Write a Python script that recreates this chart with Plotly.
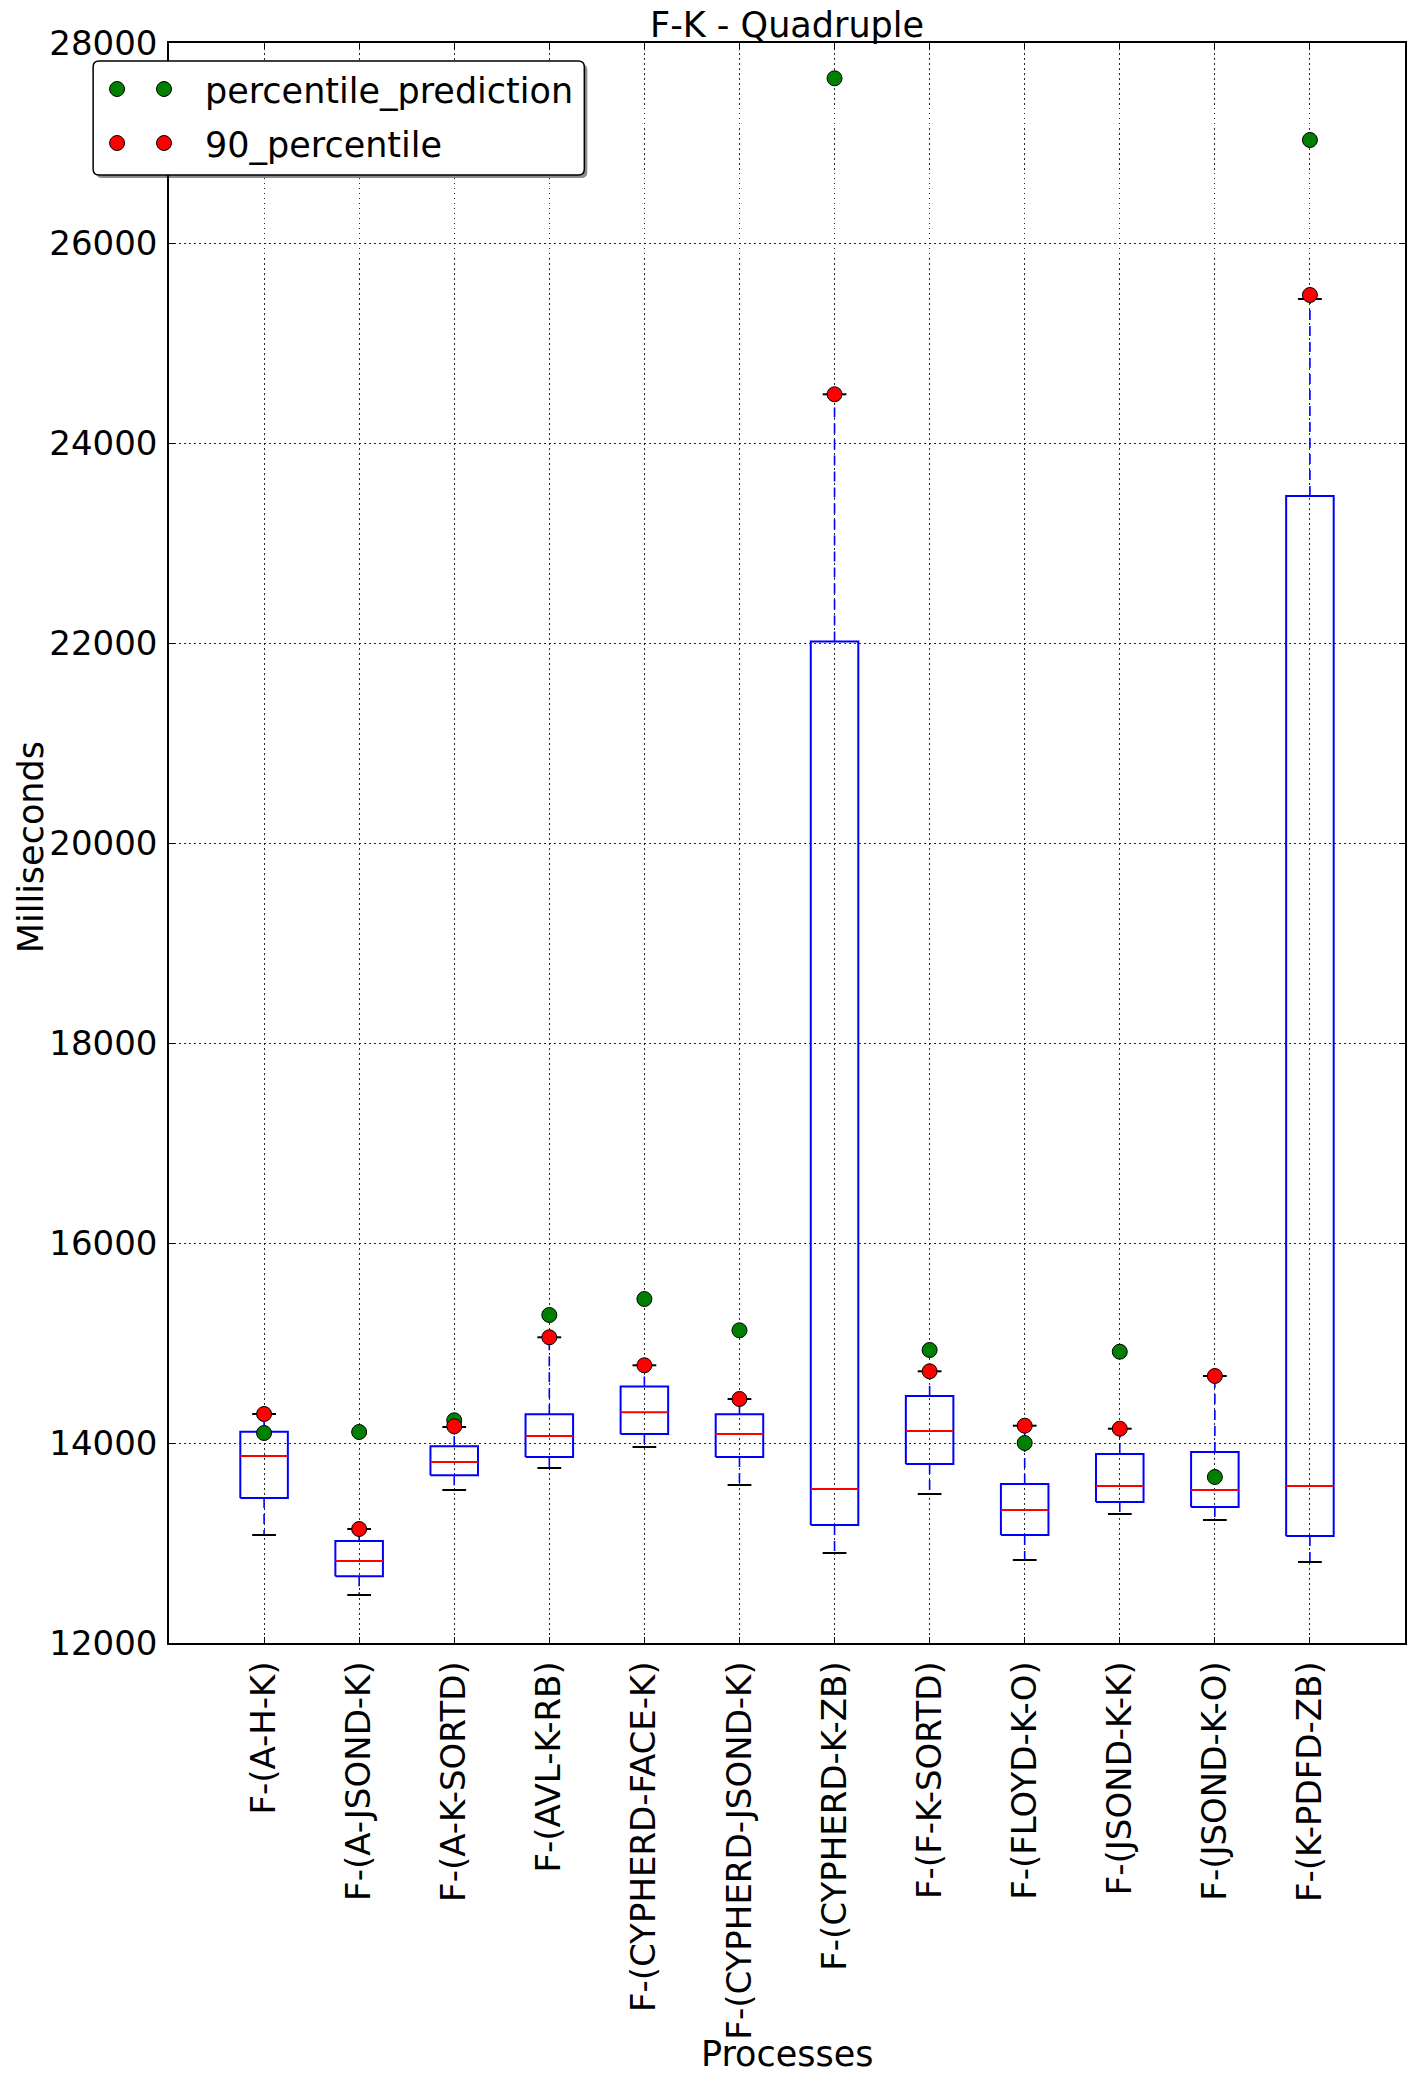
import plotly.graph_objects as go

# ---------------- data ----------------
categories = [
    "F-(A-H-K)", "F-(A-JSOND-K)", "F-(A-K-SORTD)", "F-(AVL-K-RB)",
    "F-(CYPHERD-FACE-K)", "F-(CYPHERD-JSOND-K)", "F-(CYPHERD-K-ZB)",
    "F-(F-K-SORTD)", "F-(FLOYD-K-O)", "F-(JSOND-K-K)", "F-(JSOND-K-O)",
    "F-(K-PDFD-ZB)",
]
whisker_low = [13080, 12480, 13530, 13750, 13960, 13580, 12900, 13490, 12830, 13290, 13230, 12810]
q1 = [13450, 12667, 13677, 13860, 14090, 13860, 13180, 13790, 13080, 13410, 13360, 13070]
median = [13870, 12820, 13810, 14070, 14308, 14090, 13540, 14120, 13330, 13570, 13530, 13570]
q3 = [14113, 13020, 13967, 14288, 14565, 14288, 22015, 14470, 13590, 13890, 13910, 23470]
whisker_high = [14290, 13140, 14160, 15057, 14777, 14440, 24487, 14717, 14173, 14143, 14670, 25440]
p90 = [14290, 13140, 14167, 15057, 14777, 14440, 24487, 14717, 14173, 14143, 14670, 25480]
prediction = [14100, 14110, 14227, 15280, 15440, 15127, 27647, 14930, 14000, 14913, 13660, 27030]
y_ticks = [12000, 14000, 16000, 18000, 20000, 22000, 24000, 26000, 28000]

series_names = ["percentile_prediction", "90_percentile"]
series_colors = ["#008000", "#FF0000"]

# ---------------- geometry / style ----------------
W, H = 1416, 2085
PL, PR, PT, PB = 169, 1407, 43, 1643
FONT = "DejaVu Sans"
FS = 35       # titles / legend
FS_TICK = 34  # tick labels
BOX_HALF = 0.25
CAP_HALF = 0.125

def px_x(px):
    return (px - PL) / (PR - PL)

def px_y(py):
    return (PB - py) / (PB - PT)

positions = list(range(1, len(categories) + 1))

bx, by, wx, wy, cx, cy, mx, my = [], [], [], [], [], [], [], []
for p, lo, a, m, b, hi in zip(positions, whisker_low, q1, median, q3, whisker_high):
    bx += [p - BOX_HALF, p + BOX_HALF, p + BOX_HALF, p - BOX_HALF, p - BOX_HALF, None]
    by += [a, a, b, b, a, None]
    wx += [p, p, None, p, p, None]
    wy += [b, hi, None, a, lo, None]
    cx += [p - CAP_HALF, p + CAP_HALF, None, p - CAP_HALF, p + CAP_HALF, None]
    cy += [hi, hi, None, lo, lo, None]
    mx += [p - BOX_HALF, p + BOX_HALF, None]
    my += [m, m, None]

fig = go.Figure()
fig.add_trace(go.Scatter(x=wx, y=wy, mode="lines", hoverinfo="skip",
                         line=dict(color="#0000FF", width=1.6, dash="10px,6px")))
fig.add_trace(go.Scatter(x=bx, y=by, mode="lines", hoverinfo="skip",
                         line=dict(color="#0000FF", width=2)))
fig.add_trace(go.Scatter(x=cx, y=cy, mode="lines", hoverinfo="skip",
                         line=dict(color="#000000", width=2)))
fig.add_trace(go.Scatter(x=mx, y=my, mode="lines", hoverinfo="skip",
                         line=dict(color="#FF0000", width=2)))
for name, vals, col in zip(series_names, [prediction, p90], series_colors):
    fig.add_trace(go.Scatter(x=positions, y=vals, mode="markers", name=name,
                             marker=dict(color=col, size=15,
                                         line=dict(color="#000000", width=1))))

grid = dict(showgrid=True, gridcolor="rgba(0,0,0,0.85)", gridwidth=1, griddash="1.5px,3.5px",
            showline=True, linecolor="black", linewidth=1.5, mirror="ticks",
            ticks="inside", ticklen=6, tickwidth=1, tickcolor="black",
            zeroline=False, tickfont=dict(family=FONT, size=FS_TICK, color="black"))

fig.update_xaxes(range=[0, len(categories) + 1], tickmode="array", tickvals=positions,
                 ticktext=categories, tickangle=-90, ticklabelstandoff=3, **grid)
fig.update_yaxes(range=[y_ticks[0], y_ticks[-1]], tickmode="array", tickvals=y_ticks,
                 ticktext=[str(v) for v in y_ticks], ticklabelstandoff=3, **grid)

annotations = [
    dict(text="F-K - Quadruple", x=px_x((PL + PR) / 2), y=px_y(25), xref="paper", yref="paper",
         showarrow=False, xanchor="center", yanchor="middle", font=dict(family=FONT, size=FS)),
    dict(text="Processes", x=px_x((PL + PR) / 2), y=px_y(2054), xref="paper", yref="paper",
         showarrow=False, xanchor="center", yanchor="middle", font=dict(family=FONT, size=FS)),
    dict(text="Milliseconds", x=px_x(31), y=px_y(847), xref="paper", yref="paper", textangle=-90,
         showarrow=False, xanchor="center", yanchor="middle", font=dict(family=FONT, size=FS)),
]

# ---------------- legend (manual, two points per entry) ----------------
LEG_L, LEG_T, LEG_R, LEG_B = 93, 61, 585, 175
LEG_DOT_X = [117, 164]
LEG_ROW_Y = [89, 143]
LEG_TEXT_X = 203
DOT_R = 7.5
RAD = 6

def rounded_path(l, t, r, b, rad):
    L, R, T, B = px_x(l), px_x(r), px_y(t), px_y(b)
    rx = rad / (PR - PL)
    ry = rad / (PB - PT)
    return (f"M {L + rx},{T} L {R - rx},{T} Q {R},{T} {R},{T - ry} "
            f"L {R},{B + ry} Q {R},{B} {R - rx},{B} L {L + rx},{B} "
            f"Q {L},{B} {L},{B + ry} L {L},{T - ry} Q {L},{T} {L + rx},{T} Z")

shapes = [
    dict(type="path", xref="paper", yref="paper", layer="above",
         path=rounded_path(LEG_L + 3, LEG_T + 3, LEG_R + 3, LEG_B + 3, RAD),
         fillcolor="rgba(0,0,0,0.45)", line=dict(width=0)),
    dict(type="path", xref="paper", yref="paper", layer="above",
         path=rounded_path(LEG_L, LEG_T, LEG_R, LEG_B, RAD),
         fillcolor="white", line=dict(color="black", width=1.5)),
]
for name, col, ry in zip(series_names, series_colors, LEG_ROW_Y):
    for dx in LEG_DOT_X:
        shapes.append(dict(type="circle", xref="paper", yref="paper", layer="above",
                           x0=px_x(dx - DOT_R), x1=px_x(dx + DOT_R),
                           y0=px_y(ry + DOT_R), y1=px_y(ry - DOT_R),
                           fillcolor=col, line=dict(color="black", width=1)))
    annotations.append(dict(text=name, x=px_x(LEG_TEXT_X), y=px_y(ry + 2), xref="paper",
                            yref="paper", showarrow=False, xanchor="left", yanchor="middle",
                            font=dict(family=FONT, size=FS)))

fig.update_layout(
    width=W, height=H,
    margin=dict(l=PL, r=W - PR, t=PT, b=H - PB, pad=0),
    plot_bgcolor="white", paper_bgcolor="white",
    showlegend=False,
    font=dict(family=FONT, size=FS, color="black"),
    annotations=annotations, shapes=shapes,
)

fig.write_html("out.html")
